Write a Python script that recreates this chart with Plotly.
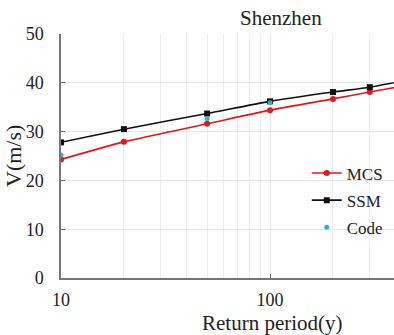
import plotly.graph_objects as go

# Data
return_period = [10, 20, 50, 100, 200, 300, 500, 1000]
mcs = [24.3, 27.9, 31.6, 34.4, 36.7, 38.1, 39.8, 41.3]
ssm = [27.8, 30.5, 33.7, 36.2, 38.1, 39.1, 40.8, 42.3]
code_period = [10, 50, 100]
code_vals = [25.2, 32.7, 35.9]
x_ticks = [10, 100, 1000]
x_minor = [20, 30, 40, 50, 60, 70, 80, 90, 200, 300, 400, 500, 600, 700, 800, 900]
y_ticks = [0, 10, 20, 30, 40, 50]

FONT = "Liberation Serif"

fig = go.Figure()
fig.add_trace(go.Scatter(
    x=return_period, y=mcs, name="MCS", mode="lines+markers",
    line=dict(color="#e8141c", width=1.6, shape="spline", smoothing=0.6),
    marker=dict(symbol="circle", size=6, color="#e8141c"),
    legendgroup="a"))
fig.add_trace(go.Scatter(
    x=return_period, y=ssm, name="SSM", mode="lines+markers",
    line=dict(color="#111111", width=1.6, shape="spline", smoothing=0.6),
    marker=dict(symbol="square", size=6, color="#111111"),
    legendgroup="b"))
fig.add_trace(go.Scatter(
    x=code_period, y=code_vals, name="Code", mode="markers",
    marker=dict(symbol="circle", size=5, color="#2fb4cc"),
    legendgroup="c"))

fig.update_layout(
    width=394, height=335,
    margin=dict(l=61, r=0, t=34, b=57),
    paper_bgcolor="white", plot_bgcolor="white",
    font=dict(family=FONT, color="#222222"),
    showlegend=True,
    legend=dict(x=0.738, y=0.502, xanchor="left", yanchor="top",
                font=dict(family=FONT, size=17, color="#222222"),
                bgcolor="rgba(0,0,0,0)", traceorder="grouped",
                tracegroupgap=2, itemwidth=30),
    annotations=[
        dict(text="Shenzhen", xref="paper", yref="paper", x=0.662, y=1,
             yshift=16, xanchor="center", yanchor="middle", showarrow=False,
             font=dict(family=FONT, size=21, color="#222222")),
        dict(text="Return period(y)", xref="paper", yref="paper", x=0.634, y=0,
             yshift=-45, xanchor="center", yanchor="middle", showarrow=False,
             font=dict(family=FONT, size=21, color="#222222")),
        dict(text="V(m/s)", xref="paper", yref="paper", x=0, xshift=-48, y=0.5,
             xanchor="center", yanchor="middle", textangle=-90, showarrow=False,
             font=dict(family=FONT, size=22, color="#222222")),
    ],
)

fig.update_xaxes(
    type="log", range=[1, 2.593],
    tickvals=x_ticks, ticktext=[str(v) for v in x_ticks],
    ticks="inside", ticklen=4, tickcolor="#666666",
    showline=True, linecolor="#777777", linewidth=1.5,
    showgrid=True, gridcolor="#e6e6e6", gridwidth=1,
    minor=dict(tickvals=x_minor, showgrid=True, gridcolor="#ededed", ticks=""),
    tickfont=dict(family=FONT, size=18, color="#222222"),
    ticklabelstandoff=5,
    zeroline=False,
)
fig.update_yaxes(
    range=[0, 50], tickvals=y_ticks,
    ticks="inside", ticklen=4, tickcolor="#666666",
    showline=True, linecolor="#777777", linewidth=1.5,
    showgrid=True, gridcolor="#e6e6e6", gridwidth=1,
    tickfont=dict(family=FONT, size=18, color="#222222"),
    ticklabelstandoff=12,
    zeroline=False,
)

fig.write_html("out.html",
               config={"displayModeBar": False},
               post_script="document.body.style.margin='0';document.body.style.overflow='hidden';")
